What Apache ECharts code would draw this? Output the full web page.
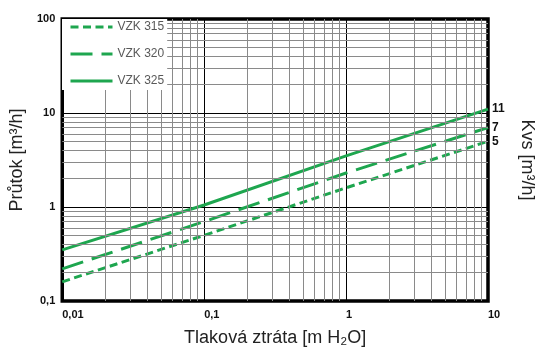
<!DOCTYPE html>
<html><head><meta charset="utf-8">
<script src="https://cdn.jsdelivr.net/npm/echarts@6/dist/echarts.min.js"></script>
<style>html,body{margin:0;padding:0;background:#fff}#c{width:547px;height:355px}</style>
</head><body><div id="c"></div>
<script>
const seriesNames = ['VZK 315', 'VZK 320', 'VZK 325'];
const kvsLabels = ['5', '7', '11'];
const pressureDrop = [0.01, 0.1, 1, 10];
const flow315 = [0.16, 0.5, 1.6, 5];
const flow320 = [0.22, 0.7, 2.3, 7];
const flow325 = [0.35, 1.05, 3.5, 11];
const xTickLabels = ['0,01', '0,1', '1', '10'];
const yTickLabels = ['0,1', '1', '10', '100'];

const GREEN = '#1ea64f';
const FONT = 'Liberation Sans, Arial, sans-serif';

// minor log grid positions (2..9 per decade)
const xMinor = [], yMinor = [];
for (let e = -2; e <= 0; e++) for (let d = 2; d <= 9; d++) xMinor.push(d * Math.pow(10, e));
for (let e = -1; e <= 1; e++) for (let d = 2; d <= 9; d++) yMinor.push(d * Math.pow(10, e));

function pairs(ys) { return pressureDrop.map((x, i) => [x, ys[i]]); }
function xl(v) { return xTickLabels[Math.round(Math.log10(v)) + 2]; }
function yl(v) { return yTickLabels[Math.round(Math.log10(v)) + 1]; }

const dashes = [[8, 4.5], [22, 9], 'solid'];
const flows = [flow315, flow320, flow325];

const chart = echarts.init(document.getElementById('c'));
const series = [{
  name: 'grid',
  type: 'line',
  data: [[1, 1]],
  symbol: 'none',
  lineStyle: { opacity: 0 },
  silent: true,
  z: 1,
  markLine: {
    silent: true,
    symbol: ['none', 'none'],
    label: { show: false },
    lineStyle: { color: '#8a8a8a', width: 1, type: 'solid' },
    emphasis: { disabled: true },
    data: xMinor.map(v => ({ xAxis: v })).concat(yMinor.map(v => ({ yAxis: v })))
  }
}];
seriesNames.forEach((n, i) => {
  series.push({
    name: n,
    type: 'line',
    data: pairs(flows[i]),
    symbol: 'none',
    z: 3,
    lineStyle: { color: GREEN, width: 3, type: dashes[i] },
    itemStyle: { color: GREEN },
    endLabel: {
      show: true,
      formatter: () => kvsLabels[i],
      distance: 4,
      fontFamily: FONT, fontWeight: 'bold', fontSize: 12, color: '#111'
    }
  });
});

chart.setOption({
  animation: false,
  backgroundColor: '#fff',
  grid: { left: 62, right: 59, top: 19, bottom: 54, show: true, borderColor: '#000', borderWidth: 3.5, backgroundColor: 'transparent' },
  legend: {
    data: seriesNames,
    orient: 'vertical',
    left: 62, top: 19,
    padding: [0, 3, 1, 7],
    itemWidth: 42, itemHeight: 14, itemGap: 11,
    backgroundColor: '#fff',
    itemStyle: { opacity: 0 },
    lineStyle: { width: 3 },
    textStyle: { fontFamily: FONT, fontSize: 12, color: '#595959', lineHeight: 16 },
    z: 10
  },
  xAxis: {
    type: 'log', logBase: 10, min: 0.01, max: 10,
    name: 'Tlaková ztráta [m H₂O]',
    nameLocation: 'middle', nameGap: 28,
    nameTextStyle: { fontFamily: FONT, fontSize: 18, color: '#222' },
    axisLine: { show: false }, axisTick: { show: false },
    axisLabel: { formatter: xl, fontFamily: FONT, fontWeight: 'bold', fontSize: 11, color: '#111', margin: 8, align: 'left', showMinLabel: true, showMaxLabel: true },
    splitLine: { show: true, lineStyle: { color: '#000', width: 1 } },
    minorTick: { show: false }, minorSplitLine: { show: false }
  },
  yAxis: [{
    type: 'log', logBase: 10, min: 0.1, max: 100,
    name: 'Průtok [m³/h]',
    nameLocation: 'middle', nameGap: 31,
    nameTextStyle: { fontFamily: FONT, fontSize: 18, color: '#222' },
    axisLine: { show: false }, axisTick: { show: false },
    axisLabel: { formatter: yl, fontFamily: FONT, fontWeight: 'bold', fontSize: 11, color: '#111', margin: 7, padding: [0, 0, 6, 0], showMinLabel: true, showMaxLabel: true },
    splitLine: { show: true, lineStyle: { color: '#000', width: 1 } }
  }, {
    type: 'log', logBase: 10, min: 0.1, max: 100,
    position: 'right',
    name: 'Kvs [m³/h]',
    nameLocation: 'middle', nameGap: 30, nameRotate: -90,
    nameTextStyle: { fontFamily: FONT, fontSize: 18, color: '#222' },
    axisLine: { show: false }, axisTick: { show: false }, axisLabel: { show: false },
    splitLine: { show: false }
  }],
  series: series
});
</script>
</body></html>
